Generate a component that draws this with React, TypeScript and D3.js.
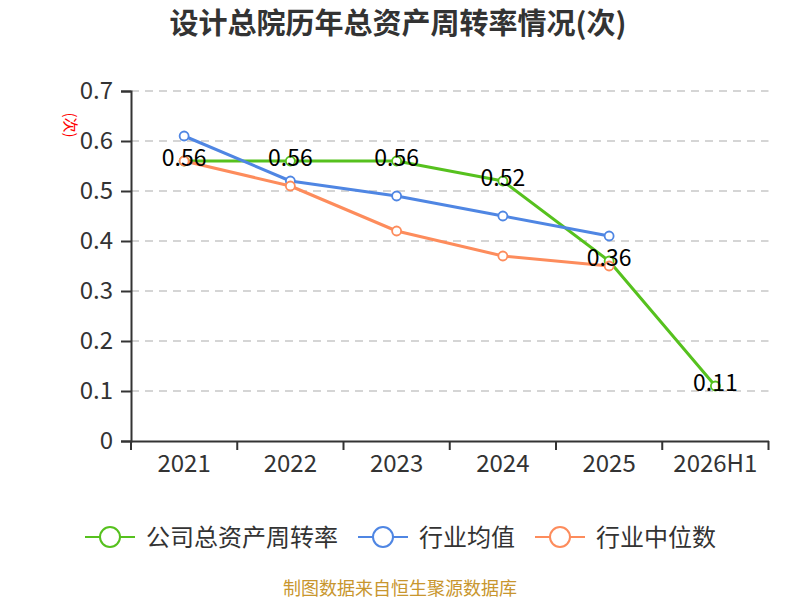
import * as d3 from "d3";
import { useRef, useEffect } from "react";

const categories = ["2021", "2022", "2023", "2024", "2025", "2026H1"];
const companyValues = [0.56, 0.56, 0.56, 0.52, 0.36, 0.11];
const industryAvg = [0.61, 0.52, 0.49, 0.45, 0.41];
const industryMedian = [0.56, 0.51, 0.42, 0.37, 0.35];
const yTicks = [0, 0.1, 0.2, 0.3, 0.4, 0.5, 0.6, 0.7];

const seriesList = [
  { name: "公司总资产周转率", values: companyValues, color: "#56c11e", labels: true },
  { name: "行业均值", values: industryAvg, color: "#4f86e3", labels: false },
  { name: "行业中位数", values: industryMedian, color: "#fd8c5c", labels: false },
];

const FONT = "'Noto Sans CJK SC', 'Noto Sans', sans-serif";

export default function App() {
  const svgRef = useRef(null);

  useEffect(() => {
    const width = 800;
    const height = 600;
    const svg = d3.select(svgRef.current).attr("width", width).attr("height", height);
    svg.selectAll("*").remove();

    const left = 131;
    const right = 768.5;
    const top = 91;
    const bottom = 441;

    const x = d3.scaleBand().domain(categories).range([left, right]);
    const y = d3.scaleLinear().domain([0, 0.7]).range([bottom, top]);
    const cx = (c: string) => (x(c) as number) + x.bandwidth() / 2;

    // title
    svg
      .append("text")
      .attr("x", 398)
      .attr("y", 34)
      .attr("text-anchor", "middle")
      .attr("font-family", FONT)
      .attr("font-weight", "bold")
      .attr("font-size", 29)
      .attr("fill", "#333")
      .text("设计总院历年总资产周转率情况(次)");

    // unit label
    svg
      .append("text")
      .attr("transform", "translate(65,125) rotate(90)")
      .attr("text-anchor", "middle")
      .attr("font-family", FONT)
      .attr("font-size", 15)
      .attr("fill", "#ff0000")
      .text("(次)");

    // grid
    svg
      .append("g")
      .selectAll("line")
      .data(yTicks.filter((t) => t > 0))
      .enter()
      .append("line")
      .attr("x1", left)
      .attr("x2", right)
      .attr("y1", (d) => y(d))
      .attr("y2", (d) => y(d))
      .attr("stroke", "#c8c8c8")
      .attr("stroke-width", 1.5)
      .attr("stroke-dasharray", "8,6");

    // y axis
    const yAxis = svg
      .append("g")
      .attr("transform", `translate(${left},0)`)
      .call(
        d3
          .axisLeft(y)
          .tickValues(yTicks)
          .tickSize(10)
          .tickPadding(8)
          .tickFormat((d) => (d === 0 ? "0" : d3.format(".1f")(d as number)))
      );
    yAxis.select(".domain").attr("stroke", "#333").attr("stroke-width", 2);
    yAxis.selectAll(".tick line").attr("stroke", "#333").attr("stroke-width", 2);
    yAxis
      .selectAll(".tick text")
      .attr("font-family", FONT)
      .attr("font-size", 24)
      .attr("fill", "#333");

    // x axis
    const xAxis = svg
      .append("g")
      .attr("transform", `translate(0,${bottom})`)
      .call(d3.axisBottom(x).tickSize(0).tickPadding(14));
    xAxis.select(".domain").attr("stroke", "#333").attr("stroke-width", 2);
    xAxis
      .selectAll(".tick text")
      .attr("font-family", FONT)
      .attr("font-size", 24)
      .attr("fill", "#333");
    const bounds = categories.map((c) => x(c) as number).concat([right]);
    xAxis
      .append("g")
      .selectAll("line")
      .data(bounds)
      .enter()
      .append("line")
      .attr("x1", (d) => d)
      .attr("x2", (d) => d)
      .attr("y1", 0)
      .attr("y2", 9)
      .attr("stroke", "#333")
      .attr("stroke-width", 2);

    // lines
    const line = d3
      .line<number>()
      .x((_, i) => cx(categories[i]))
      .y((d) => y(d));

    seriesList.forEach((s) => {
      const g = svg.append("g");
      g.append("path")
        .attr("d", line(s.values) as string)
        .attr("fill", "none")
        .attr("stroke", s.color)
        .attr("stroke-width", 3)
        .attr("stroke-linejoin", "round");
      g.selectAll("circle")
        .data(s.values)
        .enter()
        .append("circle")
        .attr("cx", (_, i) => cx(categories[i]))
        .attr("cy", (d) => y(d))
        .attr("r", 4.5)
        .attr("fill", "#fff")
        .attr("stroke", s.color)
        .attr("stroke-width", 1.8);
    });

    // data labels
    seriesList
      .filter((s) => s.labels)
      .forEach((s) => {
        svg
          .append("g")
          .selectAll("text")
          .data(s.values)
          .enter()
          .append("text")
          .attr("x", (_, i) => cx(categories[i]))
          .attr("y", (d) => y(d) + 5)
          .attr("text-anchor", "middle")
          .attr("font-family", FONT)
          .attr("font-size", 23)
          .attr("fill", "#000")
          .text((d) => d.toFixed(2));
      });

    // legend
    const legendX = [85, 358, 535];
    seriesList.forEach((s, i) => {
      const g = svg.append("g").attr("transform", `translate(${legendX[i]},537)`);
      g.append("line")
        .attr("x1", 0)
        .attr("x2", 50)
        .attr("y1", 0)
        .attr("y2", 0)
        .attr("stroke", s.color)
        .attr("stroke-width", 2);
      g.append("circle")
        .attr("cx", 25)
        .attr("cy", 0)
        .attr("r", 10)
        .attr("fill", "#fff")
        .attr("stroke", s.color)
        .attr("stroke-width", 2);
      g.append("text")
        .attr("x", 61)
        .attr("y", 9)
        .attr("font-family", FONT)
        .attr("font-size", 24)
        .attr("fill", "#333")
        .text(s.name);
    });

    // source
    svg
      .append("text")
      .attr("x", 400)
      .attr("y", 595)
      .attr("text-anchor", "middle")
      .attr("font-family", FONT)
      .attr("font-size", 18)
      .attr("fill", "#c8962e")
      .text("制图数据来自恒生聚源数据库");
  }, []);

  return (
    <div style={{ position: "absolute", left: 0, top: 0 }}>
      <svg ref={svgRef} />
    </div>
  );
}
